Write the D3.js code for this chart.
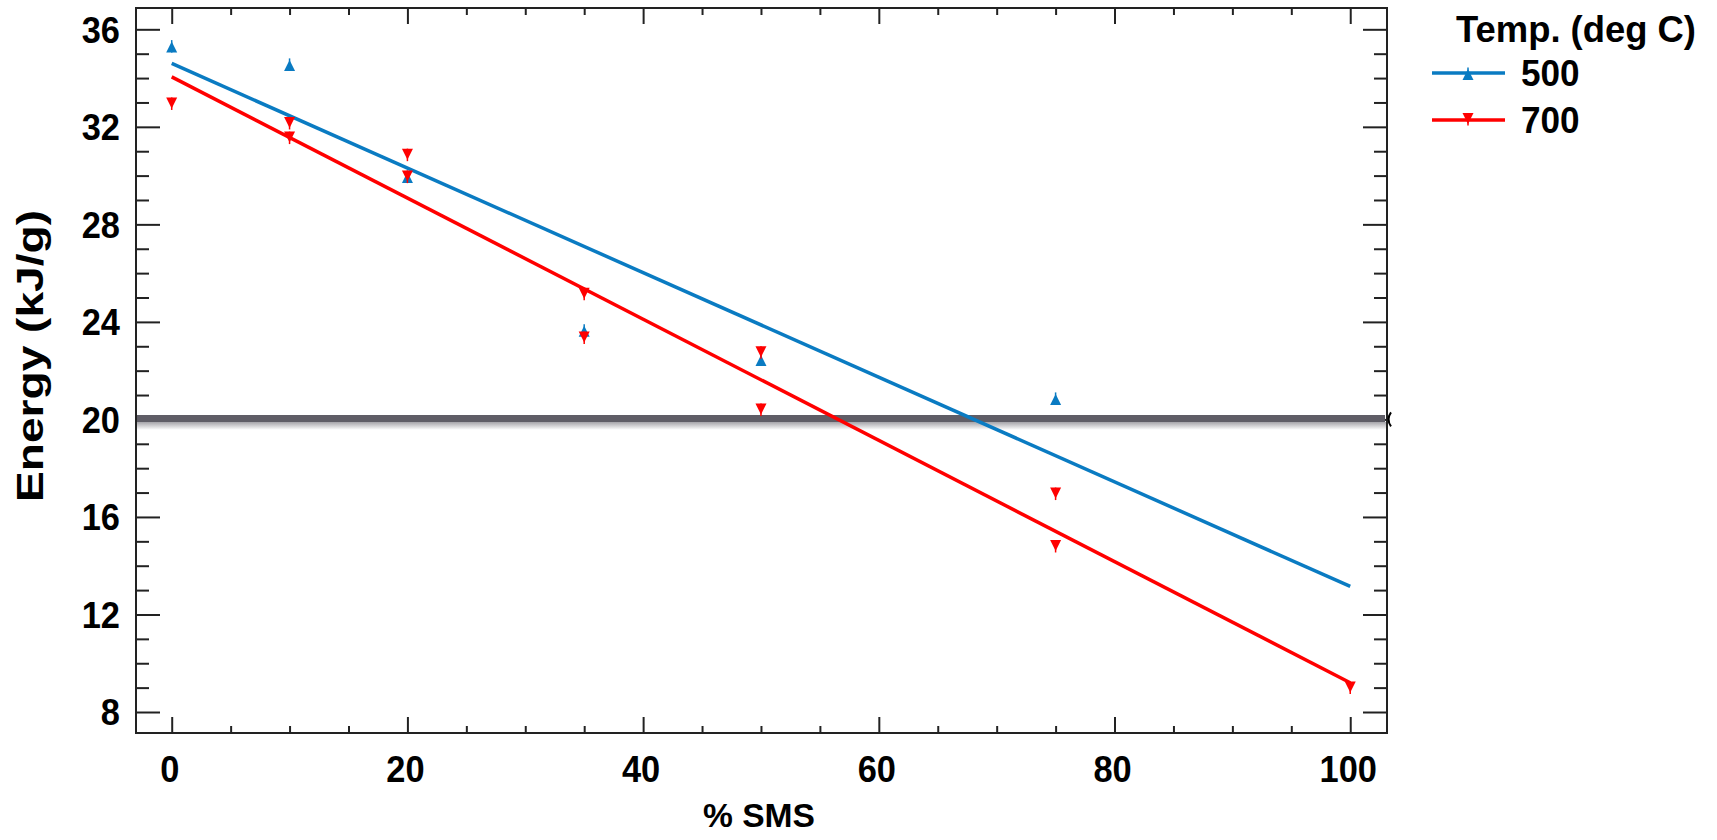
<!DOCTYPE html>
<html>
<head>
<meta charset="utf-8">
<script src="https://cdn.jsdelivr.net/npm/d3@7/dist/d3.min.js"></script>
<style>
  html, body { margin: 0; padding: 0; background: #fff; }
  svg { display: block; }
  text { font-family: "Liberation Sans", Arial, sans-serif; font-weight: bold; fill: #000; }
</style>
</head>
<body>
<svg id="chart" width="1717" height="840"></svg>
<script>
// ---- data ----
const sms500 = [0, 10, 20, 35, 50, 75];
const energy500 = [35.25, 34.5, 29.9, 23.6, 22.4, 20.8];
const sms700 = [0, 10, 10, 20, 20, 35, 35, 50, 50, 75, 75, 100];
const energy700 = [33.0, 32.2, 31.6, 30.9, 30.0, 25.2, 23.4, 22.8, 20.45, 17.0, 14.85, 9.05];
const fitX = [0, 100];
const fit500 = [34.6, 13.15];
const fit700 = [34.05, 9.2];
const refLine = 20;
const xTicks = [0, 20, 40, 60, 80, 100];
const yTicks = [8, 12, 16, 20, 24, 28, 32, 36];
const seriesNames = ["500", "700"];
const legendTitle = "Temp. (deg C)";
const xTitle = "% SMS";
const yTitle = "Energy (kJ/g)";

const BLUE = "#0a7bc2", RED = "#ff0000";

const svg = d3.select("#chart");
const L = 136, R = 1387, T = 8, B = 733;
const x = d3.scaleLinear().domain([-3.03, 103.12]).range([L, R]);
const y = d3.scaleLinear().domain([7.139, 36.874]).range([B, T]);

const g = svg.append("g");

const xMinor = d3.range(0, 101, 5).filter(v => xTicks.indexOf(v) < 0);
const yMinor = d3.range(8, 37, 1).filter(v => yTicks.indexOf(v) < 0);

function axisTicks(axisGen, transform) {
  const a = g.append("g").attr("transform", transform).call(axisGen);
  a.select(".domain").remove();
  a.selectAll("line").attr("stroke", "#222").attr("stroke-width", 2);
  return a;
}
axisTicks(d3.axisBottom(x).tickValues(xTicks).tickSizeInner(-16).tickSizeOuter(0).tickFormat(""), `translate(0,${B})`);
axisTicks(d3.axisBottom(x).tickValues(xMinor).tickSizeInner(-7).tickSizeOuter(0).tickFormat(""), `translate(0,${B})`);
axisTicks(d3.axisTop(x).tickValues(xTicks).tickSizeInner(-16).tickSizeOuter(0).tickFormat(""), `translate(0,${T})`);
axisTicks(d3.axisTop(x).tickValues(xMinor).tickSizeInner(-7).tickSizeOuter(0).tickFormat(""), `translate(0,${T})`);
axisTicks(d3.axisLeft(y).tickValues(yTicks).tickSizeInner(-24).tickSizeOuter(0).tickFormat(""), `translate(${L},0)`);
axisTicks(d3.axisLeft(y).tickValues(yMinor).tickSizeInner(-13).tickSizeOuter(0).tickFormat(""), `translate(${L},0)`);
axisTicks(d3.axisRight(y).tickValues(yTicks).tickSizeInner(-24).tickSizeOuter(0).tickFormat(""), `translate(${R},0)`);
axisTicks(d3.axisRight(y).tickValues(yMinor).tickSizeInner(-13).tickSizeOuter(0).tickFormat(""), `translate(${R},0)`);

// tick labels (slightly tall/condensed like the reference)
g.selectAll("text.xl").data(xTicks).enter().append("text")
  .attr("transform", d => `translate(${x(d) - 2},782) scale(0.93,1)`)
  .attr("text-anchor", "middle").attr("font-size", 37).text(d => d);
g.selectAll("text.yl").data(yTicks).enter().append("text")
  .attr("transform", d => `translate(120,${y(d)}) scale(0.93,1)`).attr("dy", "0.36em")
  .attr("text-anchor", "end").attr("font-size", 37).text(d => d);

// frame
g.append("rect").attr("x", L).attr("y", T).attr("width", R - L).attr("height", B - T)
  .attr("fill", "none").attr("stroke", "#222").attr("stroke-width", 2);

// reference line with shadow
const defs = svg.append("defs");
const grad = defs.append("linearGradient").attr("id", "shadow").attr("x1", 0).attr("y1", 0).attr("x2", 0).attr("y2", 1);
grad.append("stop").attr("offset", "0%").attr("stop-color", "#a4a3a8");
grad.append("stop").attr("offset", "100%").attr("stop-color", "#ffffff");
g.append("rect").attr("x", L + 1).attr("y", y(refLine) + 2.5).attr("width", R - L - 2).attr("height", 8).attr("fill", "url(#shadow)");
g.append("line").attr("x1", L + 1).attr("x2", R - 2).attr("y1", y(refLine) - 1).attr("y2", y(refLine) - 1)
  .attr("stroke", "#5f5d66").attr("stroke-width", 7);
g.append("path").attr("d", `M${R + 4},${y(refLine) - 7} q-5,7 0,14`).attr("fill", "none").attr("stroke", "#000").attr("stroke-width", 2);

// fitted lines
const line = d3.line().x(d => x(d[0])).y(d => y(d[1]));
g.append("path").datum(fitX.map((v, i) => [v, fit500[i]])).attr("d", line)
  .attr("fill", "none").attr("stroke", BLUE).attr("stroke-width", 3.5);
g.append("path").datum(fitX.map((v, i) => [v, fit700[i]])).attr("d", line)
  .attr("fill", "none").attr("stroke", RED).attr("stroke-width", 3.5);

// markers
function upTri(sel, color) {
  sel.append("path").attr("d", "M0,-6 L5.5,5 L-5.5,5 Z").attr("fill", color);
  sel.append("line").attr("x1", 0).attr("x2", 0).attr("y1", -7.5).attr("y2", 5).attr("stroke", color).attr("stroke-width", 1.5);
}
function downTri(sel, color) {
  sel.append("path").attr("d", "M0,6 L5.5,-5 L-5.5,-5 Z").attr("fill", color);
  sel.append("line").attr("x1", 0).attr("x2", 0).attr("y1", 7.5).attr("y2", -5).attr("stroke", color).attr("stroke-width", 1.5);
}
const p500 = sms500.map((v, i) => [v, energy500[i]]);
const p700 = sms700.map((v, i) => [v, energy700[i]]);
g.selectAll("g.p500").data(p500).enter().append("g")
  .attr("transform", d => `translate(${x(d[0])},${y(d[1])})`).each(function () { upTri(d3.select(this), BLUE); });
g.selectAll("g.p700").data(p700).enter().append("g")
  .attr("transform", d => `translate(${x(d[0])},${y(d[1])})`).each(function () { downTri(d3.select(this), RED); });

// axis titles
svg.append("text").attr("x", 759).attr("y", 827).attr("text-anchor", "middle")
  .attr("font-size", 34).attr("textLength", 112).attr("lengthAdjust", "spacingAndGlyphs").text(xTitle);
svg.append("text").attr("transform", "translate(43,356) rotate(-90)").attr("text-anchor", "middle")
  .attr("font-size", 36).attr("textLength", 292).attr("lengthAdjust", "spacingAndGlyphs").text(yTitle);

// legend
const lg = svg.append("g");
lg.append("text").attr("x", 1456).attr("y", 42).attr("font-size", 37)
  .attr("textLength", 240).attr("lengthAdjust", "spacingAndGlyphs").text(legendTitle);
const colors = [BLUE, RED];
seriesNames.forEach((name, i) => {
  const yy = 73 + i * 47;
  lg.append("line").attr("x1", 1432).attr("x2", 1505).attr("y1", yy).attr("y2", yy)
    .attr("stroke", colors[i]).attr("stroke-width", 3.5);
  const m = lg.append("g").attr("transform", `translate(1468,${yy + (i === 0 ? 2 : -2)})`);
  if (i === 0) upTri(m, colors[i]); else downTri(m, colors[i]);
  lg.append("text").attr("transform", `translate(1521,${yy + 13}) scale(0.95,1)`).attr("font-size", 37).text(name);
});
</script>
</body>
</html>
